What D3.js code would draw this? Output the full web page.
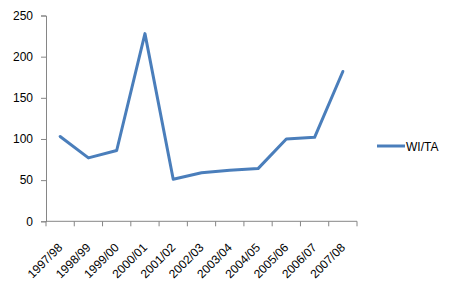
<!DOCTYPE html>
<html><head><meta charset="utf-8">
<script src="https://cdn.jsdelivr.net/npm/d3@7"></script>
<style>body{margin:0;background:#fff}svg{display:block}text{font-family:"Liberation Sans",Arial,sans-serif;font-size:12px;fill:#000}</style>
</head><body><svg id="c" width="456" height="288"></svg>
<script>
(function(){
const categories = ["1997/98","1998/99","1999/00","2000/01","2001/02","2002/03","2003/04","2004/05","2005/06","2006/07","2007/08"];
const values = [103,77,86,228,51,59,62,64,100,102,182];
const yTicks = [0,50,100,150,200,250];
const seriesName = "WI/TA";

const svg = d3.select("#c");
const mLeft = 46, mRight = 357, mTop = 15.5, mBottom = 221.3;
const x = d3.scaleBand().domain(categories).range([mLeft, mRight]).padding(0);
const y = d3.scaleLinear().domain([0,250]).range([mBottom, mTop]);
const axisColor = "#868686";

// y axis
const ya = svg.append("g").attr("transform", `translate(${mLeft},0)`)
  .call(d3.axisLeft(y).tickValues(yTicks).tickSize(5).tickPadding(8));
ya.select(".domain").attr("stroke", axisColor);
ya.selectAll(".tick line").attr("stroke", axisColor);
ya.selectAll("text").style("font-size","12px").style("font-family",'"Liberation Sans",Arial,sans-serif').attr("fill","#000");

// x axis
const xa = svg.append("g").attr("transform", `translate(0,${mBottom})`);
xa.append("line").attr("x1", mLeft).attr("x2", mRight).attr("stroke", axisColor);
const edges = categories.map(c => x(c)).concat([mRight]);
xa.selectAll("line.t").data(edges).join("line").attr("class","t")
  .attr("x1", d=>d).attr("x2", d=>d).attr("y1",0).attr("y2",5).attr("stroke", axisColor);
xa.selectAll("text.l").data(categories).join("text").attr("class","l")
  .attr("text-anchor","end")
  .attr("transform", d => `translate(${x(d)+x.bandwidth()/2+3},${27}) rotate(-45)`)
  .text(d=>d);

// line
const line = d3.line().x((d,i)=>x(categories[i])+x.bandwidth()/2).y(d=>y(d));
svg.append("path").datum(values).attr("d", line).attr("fill","none")
  .attr("stroke","#4a7ebb").attr("stroke-width",3).attr("stroke-linejoin","round").attr("stroke-linecap","round");

// legend
svg.append("line").attr("x1",377).attr("x2",405).attr("y1",146).attr("y2",146)
  .attr("stroke","#4a7ebb").attr("stroke-width",3);
svg.append("text").attr("x",406).attr("y",150.5).text(seriesName);
})();
</script></body></html>
